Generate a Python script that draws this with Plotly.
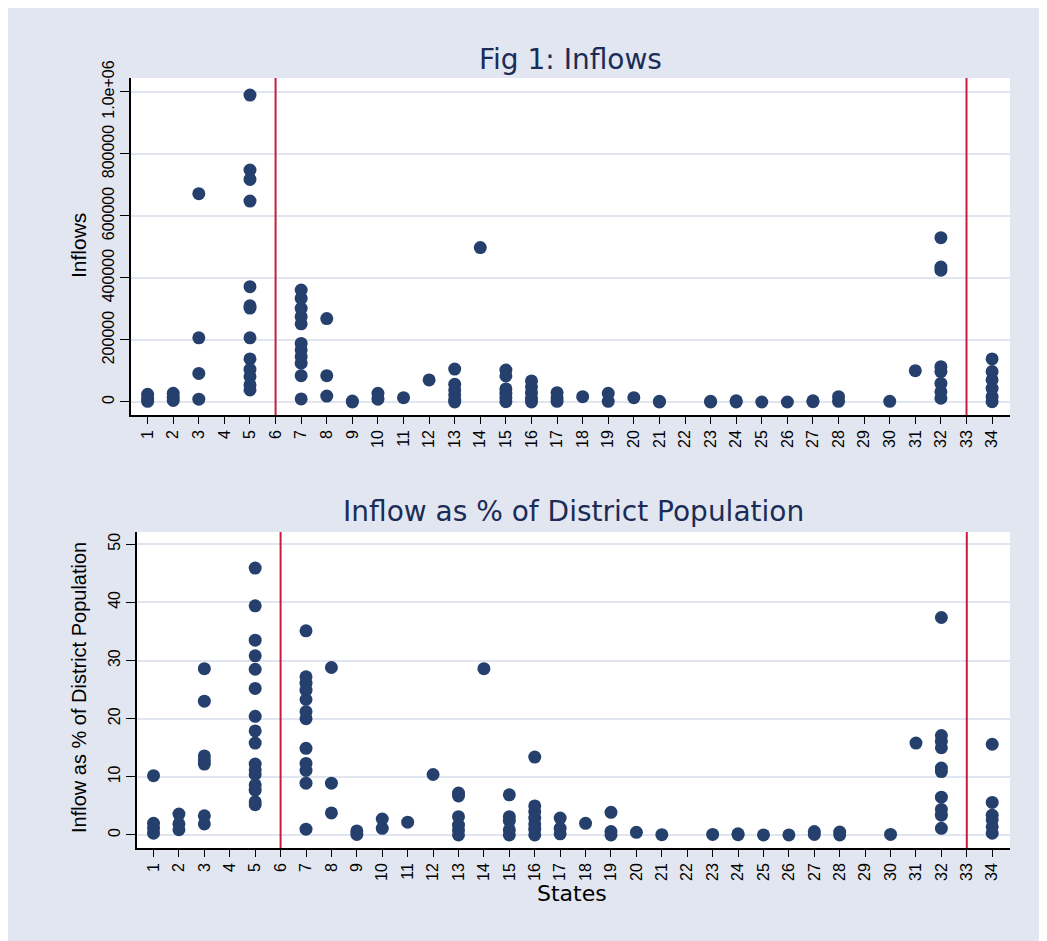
import plotly.graph_objects as go

# ---- data ----
states = list(range(1, 35))
state_ticks = [str(s) for s in states]

inflow_state_ids = [1, 2, 3, 5, 7, 8, 9, 10, 11, 12, 13, 14, 15, 16, 17, 18, 19, 20, 21,
                    23, 24, 25, 26, 27, 28, 30, 31, 32, 34]
inflow_values = [
    [25000, 12000, 2000],
    [28000, 15000, 5000],
    [672000, 207000, 92000, 9000],
    [990000, 748000, 718000, 648000, 372000, 310000, 303000, 207000, 139000, 105000, 82000, 55000, 39000],
    [361000, 334000, 302000, 275000, 252000, 189000, 168000, 146000, 125000, 85000, 10000],
    [269000, 85000, 19000],
    [3000, 0],
    [28000, 9000],
    [14000],
    [71000],
    [106000, 57000, 39000, 23000, 6000, 0],
    [498000],
    [103000, 84000, 42000, 28000, 14000, 1000],
    [68000, 49000, 30000, 12000, 0],
    [30000, 14000, 2000],
    [17000],
    [28000, 2000],
    [14000],
    [2000, 0],
    [2000, 0],
    [4000, 0],
    [0],
    [0],
    [4000, 1000],
    [17000, 2000],
    [2000],
    [101000],
    [530000, 435000, 425000, 114000, 98000, 60000, 33000, 12000],
    [139000, 98000, 71000, 44000, 17000, 1000],
]

pct_state_ids = [1, 2, 3, 5, 7, 8, 9, 10, 11, 12, 13, 14, 15, 16, 17, 18, 19, 20, 21,
                 23, 24, 25, 26, 27, 28, 30, 31, 32, 34]
pct_values = [
    [10.2, 2.0, 1.15, 0.3],
    [3.6, 1.9, 0.9],
    [28.6, 23.0, 13.6, 12.9, 12.2, 3.3, 1.9],
    [45.9, 39.4, 33.5, 30.8, 28.5, 25.2, 20.4, 17.9, 15.8, 12.2, 11.2, 10.4, 8.6, 7.7, 5.7, 5.2],
    [35.1, 27.2, 26.1, 24.9, 23.3, 21.2, 20.0, 14.9, 12.3, 11.1, 8.9, 1.0],
    [28.8, 8.9, 3.8],
    [0.7, 0.1],
    [2.75, 1.15],
    [2.2],
    [10.4],
    [7.2, 6.7, 3.15, 1.7, 0.86, 0],
    [28.6],
    [6.9, 3.15, 2.4, 0.86, 0],
    [13.4, 5.0, 4.0, 2.9, 1.9, 1.0, 0],
    [2.9, 1.15, 0.2],
    [2.0],
    [3.9, 0.6, 0],
    [0.46],
    [0.05],
    [0.1],
    [0.2, 0.05],
    [0],
    [0],
    [0.6, 0.1],
    [0.5, 0],
    [0.1],
    [15.8],
    [37.4, 17.1, 16.1, 15.0, 11.5, 10.9, 6.5, 4.4, 3.4, 1.15],
    [15.6, 5.6, 3.4, 2.6, 1.4, 0.3],
]

inflow_ticks = [0, 200000, 400000, 600000, 800000, 1000000]
inflow_ticktext = ["0", "200000", "400000", "600000", "800000", "1.0e+06"]
pct_ticks = [0, 10, 20, 30, 40, 50]
cutoff_states = [6, 33]


def flatten(ids, vals):
    xs, ys = [], []
    for s, vs in zip(ids, vals):
        for v in vs:
            xs.append(s)
            ys.append(v)
    return xs, ys


x1, y1 = flatten(inflow_state_ids, inflow_values)
x2, y2 = flatten(pct_state_ids, pct_values)

# page body has an 8px margin; the figure is placed at (8, 8)
OX, OY = 8, 8
W, H = 1047, 941
MARK = "#26406e"
RED = "#cc1a3f"
GRID = "#e1e5f0"
BG = "#e1e6f0"
TITLE_C = "#1b2c57"
FONT = "Liberation Sans, Arial, sans-serif"
TFONT = "DejaVu Sans, sans-serif"


def px_x(p):
    return (p - OX) / W


def px_y(p):
    return 1 - (p - OY) / H


fig = go.Figure()
fig.add_trace(go.Scatter(x=x1, y=y1, mode="markers", xaxis="x", yaxis="y",
                         marker=dict(color=MARK, size=13, line=dict(width=0)),
                         showlegend=False))
fig.add_trace(go.Scatter(x=x2, y=y2, mode="markers", xaxis="x2", yaxis="y2",
                         marker=dict(color=MARK, size=13, line=dict(width=0)),
                         showlegend=False))

xcommon = dict(tickmode="array", tickvals=states, ticktext=state_ticks, tickangle=-90,
               range=[0.35, 34.7], showgrid=False, zeroline=False, showline=True,
               linecolor="black", linewidth=1.5, ticks="outside", ticklen=7,
               tickcolor="black", tickwidth=1.2, automargin=False,
               tickfont=dict(family=FONT, size=16, color="black"))
ycommon = dict(tickmode="array", tickangle=-90, showgrid=True, gridcolor=GRID, gridwidth=2,
               zeroline=False, showline=True, linecolor="black", linewidth=1.5,
               ticks="outside", ticklen=9, tickcolor="black", tickwidth=1.2,
               automargin=False, tickfont=dict(family=FONT, size=16, color="black"))

layout = dict(
    width=W, height=H,
    margin=dict(l=0, r=0, t=0, b=0),
    paper_bgcolor=BG,
    plot_bgcolor="white",
    xaxis=dict(xcommon, domain=[px_x(131), px_x(1010)], anchor="y"),
    yaxis=dict(ycommon, domain=[px_y(415), px_y(78)], anchor="x",
               range=[-42000, 1045000], tickvals=inflow_ticks, ticktext=inflow_ticktext),
    xaxis2=dict(xcommon, domain=[px_x(137), px_x(1010)], anchor="y2"),
    yaxis2=dict(ycommon, domain=[px_y(848), px_y(532)], anchor="x2",
                range=[-2.24, 52.1], tickvals=pct_ticks, ticktext=[str(t) for t in pct_ticks]),
)
fig.update_layout(**layout)

shapes = []
for s in cutoff_states:
    shapes.append(dict(type="line", xref="x", yref="y domain", x0=s, x1=s, y0=0, y1=1,
                       line=dict(color=RED, width=2)))
    shapes.append(dict(type="line", xref="x2", yref="y2 domain", x0=s, x1=s, y0=0, y1=1,
                       line=dict(color=RED, width=2)))
fig.update_layout(shapes=shapes)

annotations = [
    dict(text="Fig 1: Inflows", x=px_x(570), y=px_y(59), xref="paper", yref="paper",
         showarrow=False, xanchor="center", yanchor="middle",
         font=dict(family=TFONT, size=28, color=TITLE_C)),
    dict(text="Inflow as % of District Population", x=px_x(573), y=px_y(512), xref="paper",
         yref="paper", showarrow=False, xanchor="center", yanchor="middle",
         font=dict(family=TFONT, size=28, color=TITLE_C)),
    dict(text="Inflows", x=px_x(79), y=px_y(246), xref="paper", yref="paper", textangle=-90,
         showarrow=False, xanchor="center", yanchor="middle",
         font=dict(family=FONT, size=21, color="black")),
    dict(text="Inflow as % of District Population", x=px_x(79), y=px_y(688), xref="paper",
         yref="paper", textangle=-90, showarrow=False, xanchor="center", yanchor="middle",
         font=dict(family=FONT, size=20, color="black")),
    dict(text="States", x=px_x(572), y=px_y(893), xref="paper", yref="paper",
         showarrow=False, xanchor="center", yanchor="middle",
         font=dict(family=TFONT, size=22, color="black")),
]
fig.update_layout(annotations=annotations)

fig.write_html("out.html")
